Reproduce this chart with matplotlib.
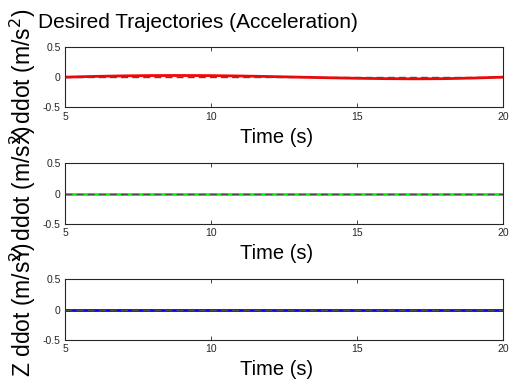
import numpy as np
import matplotlib
matplotlib.use('Agg')
import matplotlib.pyplot as plt

plt.rcParams['font.family'] = ['Liberation Sans', 'DejaVu Sans']

# time samples (s) and accelerations along each axis (m/s^2)
t = [5, 6, 7, 8, 9, 10, 11, 12, 13, 14, 15, 16, 17, 18, 19, 20]
x_ddot = [0.0, 0.012, 0.021, 0.026, 0.027, 0.025, 0.019, 0.010,
          0.0, -0.010, -0.019, -0.025, -0.028, -0.025, -0.015, 0.0]
y_ddot = [0.0, 0.0, 0.0, 0.0, 0.0, 0.0, 0.0, 0.0,
          0.0, 0.0, 0.0, 0.0, 0.0, 0.0, 0.0, 0.0]
z_ddot = [0.0, 0.0, 0.0, 0.0, 0.0, 0.0, 0.0, 0.0,
          0.0, 0.0, 0.0, 0.0, 0.0, 0.0, 0.0, 0.0]
ref_ddot = [0.0, 0.0, 0.0, 0.0, 0.0, 0.0, 0.0, 0.0,
            0.0, 0.0, 0.0, 0.0, 0.0, 0.0, 0.0, 0.0]

xticks = [5, 10, 15, 20]
yticks = [-0.5, 0, 0.5]
ytick_labels = ['-0.5', '0', '0.5']

series = [(x_ddot, '#ff0000', 'X ddot (m/s$^2$)'),
          (y_ddot, '#00ff00', 'Y ddot (m/s$^2$)'),
          (z_ddot, '#0000ff', 'Z ddot (m/s$^2$)')]

fg = '#262626'
fig = plt.figure(figsize=(5.09, 3.89), dpi=100)

bottoms = [0.7237, 0.4242, 0.126]
for (vals, col, lab), b in zip(series, bottoms):
    ax = fig.add_axes([0.1277, b, 0.8605, 0.156])
    ax.plot(t, vals, color=col, lw=2.0, zorder=2)
    ax.plot(t, ref_ddot, color='#4d4d4d', lw=1.0, ls=(0, (5, 3)), zorder=3)
    ax.set_xlim(5, 20)
    ax.set_ylim(-0.5, 0.5)
    ax.set_xticks(xticks)
    ax.set_yticks(yticks)
    ax.set_yticklabels(ytick_labels)
    ax.tick_params(direction='in', length=3, width=0.6, colors=fg,
                   labelsize=7.5, pad=3, top=True, right=True)
    for s in ax.spines.values():
        s.set_color(fg)
        s.set_linewidth(0.8)
    ax.set_xlabel('Time (s)', fontsize=14.5, color='#000000')
    ax.xaxis.set_label_coords(0.482, -0.33)
    ax.xaxis.label.set_va('top')
    ax.set_ylabel(lab, fontsize=16.5, color='#000000')
    ax.yaxis.set_label_coords(-0.062, 0.5)

fig.text(38 / 509, 1 - 28 / 389, 'Desired Trajectories (Acceleration)',
         fontsize=15, va='baseline', ha='left', color='#000000')

fig.savefig('out.png', dpi=100)
